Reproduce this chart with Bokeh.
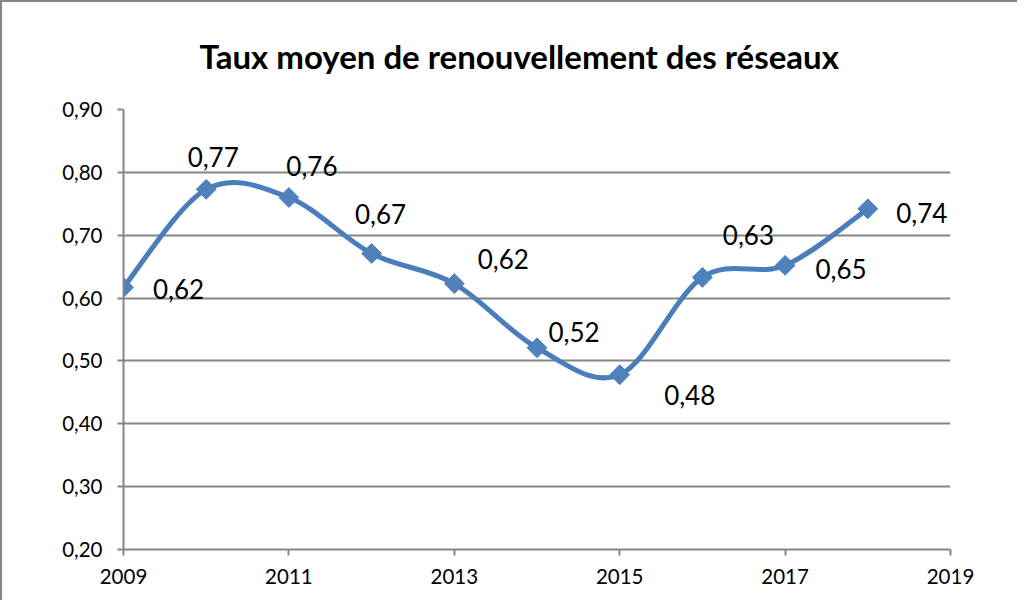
import numpy as np
from bokeh.plotting import figure
from bokeh.models import ColumnDataSource, FixedTicker, CustomJSTickFormatter, Title, Range1d
from bokeh.core.properties import value
from bokeh.embed import file_html
from bokeh.resources import INLINE

# ---- data ----
years = [2009, 2010, 2011, 2012, 2013, 2014, 2015, 2016, 2017, 2018]
rates = [0.617, 0.773, 0.760, 0.671, 0.623, 0.521, 0.478, 0.633, 0.652, 0.742]
x_ticks = [2009, 2011, 2013, 2015, 2017, 2019]
y_ticks = [0.20, 0.30, 0.40, 0.50, 0.60, 0.70, 0.80, 0.90]
title_text = "Taux moyen de renouvellement des réseaux"

# label offsets in screen pixels (style only)
lab_dx = [55, 7, 23, 9, 49, 37, 70, 46, 56, 54]
lab_dy = [2, -32, -32, -39, -25, -16, 20, -42, 4, 4]

FONT = "Lato"
GRAY = "#868686"
BLUE = "#4A7EBB"

p = figure(width=1017, height=600, output_backend="svg", toolbar_location=None,
           x_range=Range1d(2009, 2019), y_range=Range1d(0.2, 0.9),
           min_border_left=121, min_border_right=69, min_border_top=107, min_border_bottom=53)
p.outline_line_color = None
p.background_fill_color = "white"
p.border_fill_color = "white"
p.styles = {"border-top": "2px solid #868686", "border-left": "2px solid #868686"}

t = Title(text=title_text, align="left", vertical_align="top", text_font=FONT,
          text_font_style="bold", text_font_size="33px", text_color="black",
          standoff=64, offset=76)
p.add_layout(t, "above")

# axes
p.xaxis.ticker = FixedTicker(ticks=x_ticks)
p.yaxis.ticker = FixedTicker(ticks=y_ticks)
p.yaxis.formatter = CustomJSTickFormatter(code="return tick.toFixed(2).replace('.', ',');")
p.xaxis.formatter = CustomJSTickFormatter(code="return tick.toFixed(0);")
for ax in (p.xaxis, p.yaxis):
    ax.axis_line_color = GRAY
    ax.axis_line_width = 2
    ax.major_tick_line_color = GRAY
    ax.major_tick_line_width = 2
    ax.major_tick_out = 6
    ax.major_tick_in = 0
    ax.minor_tick_line_color = None
    ax.major_label_text_font = FONT
    ax.major_label_text_font_size = "20.5px"
    ax.major_label_text_color = "black"
p.yaxis.major_label_standoff = 15
p.xaxis.major_label_standoff = 13
p.xgrid.grid_line_color = None
p.ygrid.grid_line_color = GRAY
p.ygrid.grid_line_width = 2

# smoothed line (Bezier through the points, Excel-style)
xs = np.array(years, dtype=float)
ys = np.array(rates, dtype=float)
xp = np.concatenate([[xs[0]], xs, [xs[-1]]])
yp = np.concatenate([[ys[0]], ys, [ys[-1]]])
n = len(xs)
cx0 = xs[:-1] + (xp[2:n + 1] - xp[0:n - 1]) / 6.0
cy0 = ys[:-1] + (yp[2:n + 1] - yp[0:n - 1]) / 6.0
cx1 = xs[1:] - (xp[3:n + 2] - xp[1:n]) / 6.0
cy1 = ys[1:] - (yp[3:n + 2] - yp[1:n]) / 6.0
bez = ColumnDataSource(dict(x0=xs[:-1], y0=ys[:-1], x1=xs[1:], y1=ys[1:],
                            cx0=cx0, cy0=cy0, cx1=cx1, cy1=cy1))
p.bezier(x0="x0", y0="y0", x1="x1", y1="y1", cx0="cx0", cy0="cy0", cx1="cx1", cy1="cy1",
         source=bez, line_color=BLUE, line_width=5, line_cap="round")

src = ColumnDataSource(dict(x=years, y=rates,
                            lab=[f"{v:.2f}".replace(".", ",") for v in rates],
                            dx=lab_dx, dy=lab_dy))
p.scatter(x="x", y="y", source=src, marker="square", angle=np.pi / 4, size=14,
          fill_color="#4F81BD", line_color=BLUE, line_width=1)
p.text(x="x", y="y", text="lab", source=src, x_offset="dx", y_offset="dy",
       text_align="center", text_baseline="middle", text_font=value(FONT),
       text_font_size="26px", text_color="black")

open("out.html", "w").write(file_html(p, INLINE))
